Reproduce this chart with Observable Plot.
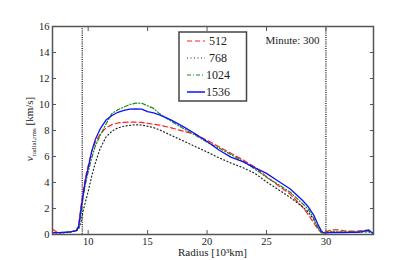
<!DOCTYPE html>
<html><head><meta charset="utf-8">
<script src="https://cdn.jsdelivr.net/npm/d3@7"></script>
<script src="https://cdn.jsdelivr.net/npm/@observablehq/plot@0.6"></script>
<style>body{margin:0;background:#fff}</style>
</head><body><div id="chart"></div>
<script>
const radius = [7, 7.5, 8, 8.5, 9, 9.2, 9.4, 9.6, 9.8, 10, 10.3, 10.6, 11, 11.5, 12, 12.5, 13, 13.5, 14, 14.5, 15, 15.5, 16, 17, 18, 19, 20, 21, 22, 23, 24, 25, 26, 27, 28, 28.5, 29, 29.3, 29.6, 29.8, 30, 30.5, 31, 31.5, 32, 32.5, 33, 33.3, 33.6, 33.8, 34];
const v512 = [0.4, 0.12, 0.15, 0.2, 0.3, 0.7, 2.2, 3.5, 4.5, 5.3, 6.4, 7.1, 7.7, 8.2, 8.45, 8.58, 8.63, 8.65, 8.65, 8.62, 8.55, 8.48, 8.42, 8.2, 7.95, 7.7, 7.25, 6.75, 6.25, 5.75, 5.2, 4.45, 3.75, 3.1, 2.15, 1.55, 0.85, 0.45, 0.15, 0.15, 0.2, 0.36, 0.36, 0.3, 0.26, 0.26, 0.3, 0.32, 0.3, 0.2, 0.1];
const v768 = [0.12, 0.12, 0.15, 0.2, 0.28, 0.4, 1.0, 1.9, 2.6, 3.3, 4.5, 5.5, 6.6, 7.5, 7.95, 8.2, 8.33, 8.4, 8.44, 8.42, 8.33, 8.22, 8.05, 7.62, 7.2, 6.77, 6.35, 5.9, 5.5, 5.15, 4.72, 4.05, 3.45, 2.85, 2.15, 1.75, 1.1, 0.55, 0.2, 0.15, 0.15, 0.18, 0.18, 0.18, 0.18, 0.18, 0.2, 0.2, 0.2, 0.15, 0.1];
const v1024 = [0.15, 0.15, 0.17, 0.2, 0.3, 0.5, 1.6, 3.0, 4.0, 4.8, 5.9, 6.8, 7.6, 8.5, 9.3, 9.6, 9.8, 10.0, 10.1, 10.1, 9.9, 9.7, 9.3, 8.7, 8.15, 7.65, 7.1, 6.65, 6.15, 5.65, 5.05, 4.4, 3.85, 3.25, 2.4, 1.95, 1.2, 0.55, 0.15, 0.15, 0.18, 0.2, 0.2, 0.2, 0.2, 0.2, 0.22, 0.25, 0.25, 0.2, 0.1];
const v1536 = [0.15, 0.15, 0.17, 0.2, 0.3, 0.6, 2.0, 3.2, 4.3, 5.1, 6.4, 7.3, 8.1, 8.8, 9.15, 9.4, 9.55, 9.64, 9.67, 9.65, 9.45, 9.35, 9.2, 8.8, 8.3, 7.75, 7.15, 6.5, 5.95, 5.6, 5.15, 4.7, 4.1, 3.5, 2.65, 2.15, 1.45, 0.82, 0.3, 0.12, 0.12, 0.15, 0.15, 0.15, 0.17, 0.17, 0.2, 0.3, 0.35, 0.2, 0.05];
const seriesNames = ["512", "768", "1024", "1536"];
const seriesValues = [v512, v768, v1024, v1536];
const seriesColors = ["#ff2020", "#222222", "#1a8a1a", "#1010ff"];
const seriesDash = ["5,3", "1,2.5", "4,2,1,2", null];
const xTicks = [10, 15, 20, 25, 30];
const yTicks = [0, 2, 4, 6, 8, 10, 12, 14, 16];
const boundaryRadii = [9.5, 30];
const annotation = "Minute: 300";
const xLabel = "Radius [10³km]";

const serif = "Liberation Serif";
const lineMarks = seriesNames.map((name, i) =>
  Plot.line(radius.map((r, j) => ({r, v: seriesValues[i][j]})), {
    x: "r", y: "v", stroke: seriesColors[i], strokeWidth: i === 3 ? 1.3 : 1.2,
    strokeDasharray: seriesDash[i] || undefined
  })
);

const plot = Plot.plot({
  width: 415, height: 260,
  marginLeft: 52, marginRight: 42, marginTop: 26, marginBottom: 26,
  style: {fontFamily: serif, fontSize: "10.5px", background: "#fff", color: "#000"},
  x: {domain: [7, 34], label: null},
  y: {domain: [0, 16], label: null},
  marks: [
    Plot.ruleX(boundaryRadii, {stroke: "#000", strokeWidth: 1.2, strokeDasharray: "1,1.2"}),
    ...lineMarks,
    Plot.frame({stroke: "#555", strokeWidth: 1.5}),
    Plot.axisX(xTicks, {anchor: "bottom", tickSize: 0, tickPadding: 3, fill: "#222"}),
    Plot.axisY(yTicks, {anchor: "left", tickSize: 0, tickPadding: 3, fill: "#222"}),
    Plot.axisX(xTicks, {anchor: "bottom", tickSize: -4, tickFormat: () => "", stroke: "#555"}),
    Plot.axisX(xTicks, {anchor: "top", tickSize: -4, tickFormat: () => "", stroke: "#555"}),
    Plot.axisY(yTicks, {anchor: "left", tickSize: -4, tickFormat: () => "", stroke: "#555"}),
    Plot.axisY(yTicks, {anchor: "right", tickSize: -4, tickFormat: () => "", stroke: "#555"}),
    Plot.text([annotation], {frameAnchor: "top-right", dx: -54, dy: 10, textAnchor: "end", fontSize: 11, fill: "#222"})
  ]
});
document.getElementById("chart").appendChild(plot);

const svg = d3.select(plot);
// x label
svg.append("text").attr("x", 212.5).attr("y", 256).attr("text-anchor", "middle")
  .attr("font-size", 11).attr("fill", "#222").text(xLabel);
// y label with subscript
const yl = svg.append("text").attr("transform", "translate(33,129) rotate(-90)")
  .attr("text-anchor", "middle").attr("font-size", 11).attr("fill", "#222");
yl.append("tspan").attr("font-style", "italic").text("v");
yl.append("tspan").attr("font-size", 7).attr("dy", 2.5).text("radial,rms");
yl.append("tspan").attr("dy", -2.5).text(" [km/s]");

// legend
const lg = svg.append("g").attr("transform", "translate(179,32)");
lg.append("rect").attr("width", 67.5).attr("height", 69).attr("fill", "#fff").attr("stroke", "#444").attr("stroke-width", 1.5);
seriesNames.forEach((name, i) => {
  const cy = 9 + i * 17;
  lg.append("line").attr("x1", 8).attr("x2", 26).attr("y1", cy).attr("y2", cy)
    .attr("stroke", seriesColors[i]).attr("stroke-width", i === 3 ? 1.5 : 1.2)
    .attr("stroke-dasharray", seriesDash[i] || null);
  lg.append("text").attr("x", 39).attr("y", cy + 4).attr("font-size", 12).attr("fill", "#222").text(name);
});
svg.selectAll("text").attr("font-family", serif);
</script>
</body></html>
